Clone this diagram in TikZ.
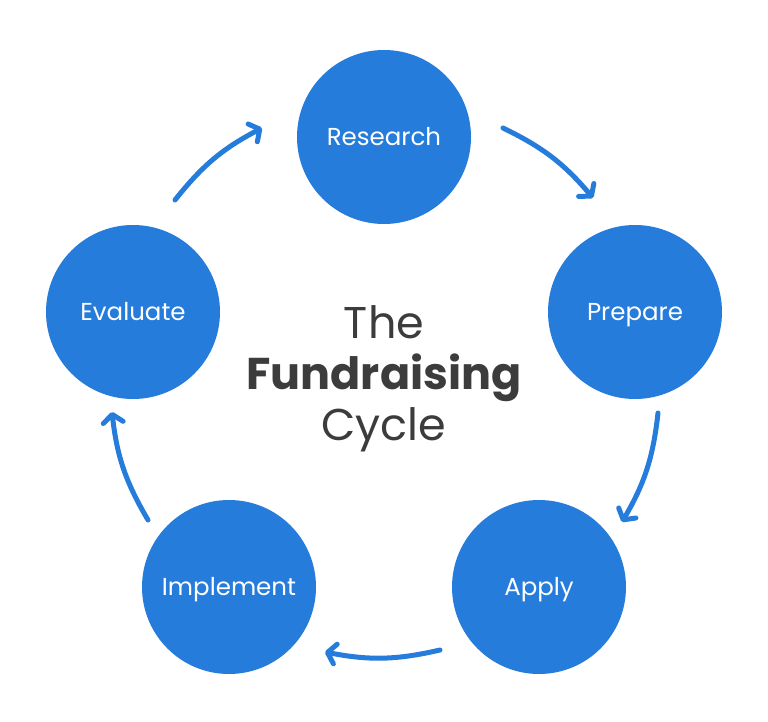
\documentclass[tikz,border=0pt]{standalone}
\usepackage{fontspec}
\setmainfont{Poppins}
\usetikzlibrary{arrows.meta}
\definecolor{cycleblue}{HTML}{257CDB}
\definecolor{titlegray}{HTML}{3C3C3C}

\begin{document}
\begin{tikzpicture}[x=1pt,y=-1pt]
 \tikzset{
 	stage node/.style={circle,fill=cycleblue,text=white,minimum size=174pt,inner sep=0,
 		text height=17pt,text depth=0pt,font=\fontsize{24.5}{28}\selectfont},
 	cycle arrow/.style={draw=cycleblue,line width=5pt,line cap=round,bend left=12,
 		-{Straight Barb[length=8pt,width=20pt,round]}}
 }
 \useasboundingbox (0,0) rectangle (768,722);

       \node[stage node] (res) at (384,137) {Research};
       \node[stage node] (pre) at (635,312) {Prepare};
       \node[stage node] (app) at (539,587) {Apply};
       \node[stage node] (imp) at (229,587) {Implement};
       \node[stage node] (eva) at (133,312) {Evaluate};

       \node[text=titlegray,align=center,font=\fontsize{44.5}{51}\selectfont] (title) at (384,379)
         {The\\\textbf{Fundraising}\\Cycle};

       % arrow ends
       \coordinate (a1s) at (175,200);
       \coordinate (a1e) at (262,128);
       \coordinate (a2s) at (503,128);
       \coordinate (a2e) at (593,198);
       \coordinate (a3s) at (658,413);
       \coordinate (a3e) at (622,522);
       \coordinate (a4s) at (440,650);
       \coordinate (a4e) at (325,652);
       \coordinate (a5s) at (148,520);
       \coordinate (a5e) at (112,412);

     \foreach \i in {1,...,5}
       \draw[cycle arrow] (a\i s) to (a\i e);
 \end{tikzpicture}
\end{document}
